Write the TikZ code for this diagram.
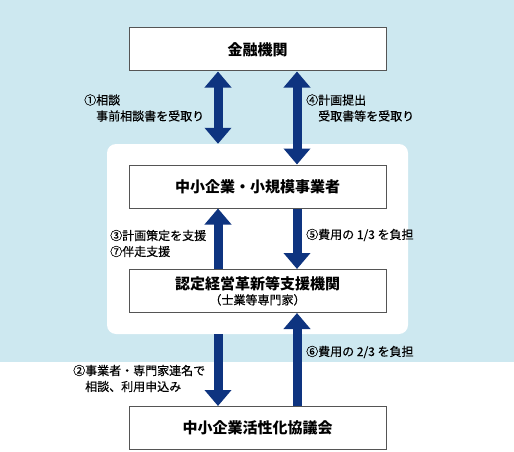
\documentclass[tikz,border=0pt]{standalone}
\usepackage{fontspec}
\setmainfont{Noto Sans CJK JP}
\newfontfamily\lblfont{Noto Sans CJK JP}[FakeBold=0.4]
\usetikzlibrary{arrows.meta,calc}
\definecolor{bgblue}{HTML}{CDE8F0}
\definecolor{navy}{HTML}{0E3480}
\definecolor{boxline}{HTML}{555555}
\tikzset{
  box/.style={draw=boxline, line width=1pt, fill=white, minimum width=257pt, minimum height=43pt, inner sep=0pt, align=center},
  boxtext/.style={font=\fontsize{15}{16}\selectfont\bfseries},
  lbl/.style={anchor=west, align=left, inner sep=0pt, font=\lblfont\fontsize{12}{16}\selectfont},
  flow/.style={navy, line width=9pt, -{Triangle[width=26pt,length=16pt]}},
  flow2/.style={navy, line width=9pt, {Triangle[width=26pt,length=16pt]}-{Triangle[width=26pt,length=16pt]}},
}
\begin{document}
\begin{tikzpicture}[x=1pt,y=-1pt]
\useasboundingbox (0,0) rectangle (514,452);
\fill[bgblue] (0,0) rectangle (514,362);
\node[fill=white, rounded corners=9pt, minimum width=301pt, minimum height=190pt, inner sep=0pt] (panel) at (257.5,239) {};
\coordinate (L) at (218,0);
\coordinate (R) at (297,0);
\node[box, boxtext] (kin) at (257.5,49.5) {金融機関};
\node[box, boxtext] (chu) at (257.5,186.5) {中小企業・小規模事業者};
\node[box] (nin) at (257.5,291) {{\fontsize{15}{16}\selectfont\bfseries 認定経営革新等支援機関}\\[3pt]{\lblfont\fontsize{12}{14}\selectfont（士業等専門家）}};
\node[box, boxtext] (kyo) at (257.5,428) {中小企業活性化協議会};
% arrows
\draw[flow2] (kin.south -| L) -- (panel.north -| L);
\draw[flow2] (kin.south -| R) -- (chu.north -| R);
\draw[flow] (nin.north -| L) -- (chu.south -| L);
\draw[flow] (chu.south -| R) -- (nin.north -| R);
\draw[flow] (panel.south -| L) -- (kyo.north -| L);
\draw[flow] (kyo.north -| R) -- (nin.south -| R);
% labels
\node[lbl] (t1) at (84,108) {①相談\\\hspace{1em}事前相談書を受取り};
\node[lbl] (t4) at (306,108) {④計画提出\\\hspace{1em}受取書等を受取り};
\node[lbl] (t3) at (110,243.5) {③計画策定を支援\\⑦伴走支援};
\node[lbl] (t5) at (306,235) {⑤費用の 1/3 を負担};
\node[lbl] (t6) at (306,352) {⑥費用の 2/3 を負担};
\node[lbl] (t2) at (73,378.5) {②事業者・専門家連名で\\\hspace{1em}相談、利用申込み};
\end{tikzpicture}
\end{document}
